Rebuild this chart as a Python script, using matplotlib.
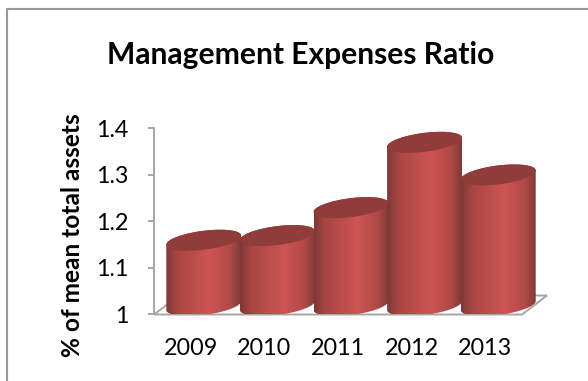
"""Management expenses ratio, drawn as pseudo-3D cylinders."""
import matplotlib
matplotlib.use('Agg')

import matplotlib.pyplot as plt
from matplotlib.colors import LinearSegmentedColormap
from matplotlib.lines import Line2D
from matplotlib.patches import PathPatch
from matplotlib.path import Path
import numpy as np

years = ['2009', '2010', '2011', '2012', '2013']
ratios = [1.14, 1.15, 1.21, 1.35, 1.28]
yticks = [1, 1.1, 1.2, 1.3, 1.4]
ytick_labels = ['1', '1.1', '1.2', '1.3', '1.4']

W, H = 588, 381
plt.rcParams['font.family'] = ['Lato', 'DejaVu Sans']

# axes run 154-522 px across, y=1 at 314.5 and y=1.4 at 128
fig = plt.figure(figsize=(W / 100, H / 100), dpi=100)
ax = fig.add_axes([154 / W, 1 - 314.5 / H, 368 / W, 186.5 / H])
ax.patch.set_alpha(0)

px_x = 5 / 368
px_y = 0.4 / 186.5

side = LinearSegmentedColormap.from_list(
    'side',
    [(0, '#7e3836'), (0.15, '#a84644'), (0.58, '#cd5553'),
     (0.85, '#b04a48'), (1, '#813a38')],
)
grad = np.linspace(0, 1, 256).reshape(1, -1)

# floor parallelogram
floor = Path(
    [(-0.5, 1), (4.5, 1), (4.5 + 25 * px_x, 1 + 19 * px_y),
     (-0.5 + 25 * px_x, 1 + 19 * px_y), (-0.5, 1)],
)
ax.add_patch(PathPatch(floor, fc='white', ec='#a6a6a6', lw=1.4, clip_on=False, zorder=1))


def ellipse(cx, cy, start, stop):
    t = np.linspace(start, stop, 80)
    x = cx + 37.5 * px_x * np.cos(t)
    y = cy + (4.5 * np.cos(t) + 9.5 * np.sin(t)) * px_y
    return np.column_stack([x, y])


for i, (year, ratio) in enumerate(zip(years, ratios)):
    cx = i + 13 * px_x
    base = 1 + 9 * px_y
    top = base + ratio - 1
    z = 2 + i

    outline = np.vstack([
        ellipse(cx, top, 0, np.pi),
        ellipse(cx, base, np.pi, 2 * np.pi),
    ])
    body = PathPatch(
        Path(np.vstack([outline, outline[0]])),
        fc='none',
        ec='none',
        clip_on=False,
        zorder=z,
    )
    ax.add_patch(body)
    im = ax.imshow(
        grad,
        cmap=side,
        extent=[cx - 37.5 * px_x, cx + 37.5 * px_x, 1, top + 12 * px_y],
        aspect='auto',
        zorder=z,
    )
    im.set_clip_box(fig.bbox)
    im.set_clip_path(body)

    cap = ellipse(cx, top, 0, 2 * np.pi)
    ax.fill(cap[:, 0], cap[:, 1], color='#8f3c3b', lw=0, zorder=z, clip_on=False)

ax.set_xlim(-0.5, 4.5)
ax.set_ylim(1, 1.4)

ax.set_xticks(range(len(years)), years)
ax.set_yticks(yticks, ytick_labels)
ax.tick_params(axis='x', length=0, pad=17, labelsize=16.8)
ax.tick_params(axis='y', length=4.3, width=1.4, color='#a6a6a6', pad=14, labelsize=16.8)
for name in ['top', 'right', 'bottom']:
    ax.spines[name].set_visible(False)
ax.spines['left'].set_color('#a6a6a6')
ax.spines['left'].set_linewidth(1.4)

ax.set_ylabel('% of mean total assets', fontsize=17.6, fontweight='bold')
ax.yaxis.set_label_coords(-70 / 368, 79.5 / 186.5)

fig.text(300.5 / W, 1 - 55 / H, 'Management Expenses Ratio',
         fontsize=21.6, fontweight='bold', ha='center', va='center')

# chart frame: only the top and left edges fall inside the image
fig.add_artist(Line2D([7 / W, 7 / W, 1], [0, 1 - 9 / H, 1 - 9 / H],
                      transform=fig.transFigure, color='#999999', lw=1.5))

fig.savefig('out.png', dpi=100)
